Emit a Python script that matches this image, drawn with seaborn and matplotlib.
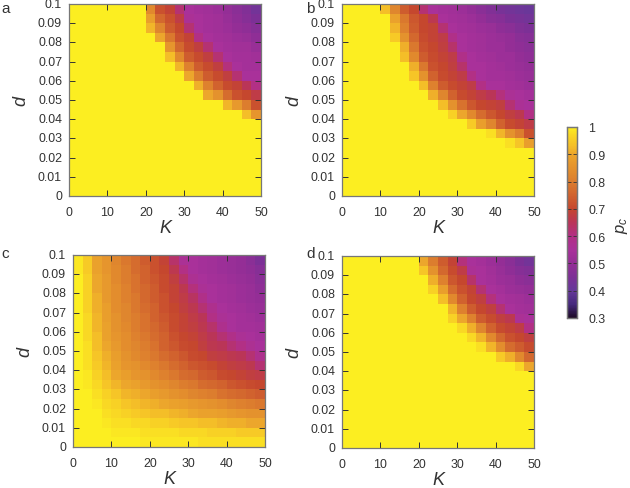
import seaborn as sns
import matplotlib.pyplot as plt
from matplotlib.colors import LinearSegmentedColormap

plt.rcParams['font.family'] = ['Liberation Sans', 'DejaVu Sans']
plt.rcParams['mathtext.fontset'] = 'custom'
plt.rcParams['mathtext.it'] = 'Liberation Sans:italic'
plt.rcParams['mathtext.rm'] = 'Liberation Sans'

# cells: 20 x 20, rows run from d = 0.1 (top) down to d = 0
panel_a = [
    [1]*8 + [.83, .72, .69, .62, .55, .54, .53, .52, .50, .48, .46, .43],
    [1]*8 + [.88, .76, .72, .67, .56, .55, .54, .53, .51, .49, .47, .45],
    [1]*8 + [.92, .82, .74, .70, .62, .55, .54, .53, .52, .50, .49, .47],
    [1]*9 + [.90, .79, .72, .69, .60, .55, .54, .53, .52, .51, .49],
    [1]*10 + [.86, .76, .71, .68, .62, .55, .54, .53, .53, .51],
    [1]*10 + [.93, .83, .74, .71, .68, .62, .55, .54, .54, .53],
    [1]*11 + [.92, .81, .74, .71, .68, .61, .55, .54, .54],
    [1]*12 + [.90, .80, .74, .71, .68, .62, .55, .55],
    [1]*13 + [.91, .81, .75, .71, .69, .65, .60],
    [1]*14 + [.90, .85, .77, .72, .70, .67],
    [1]*16 + [.92, .87, .80, .72],
    [1]*18 + [.93, .86],
] + [[1]*20]*8

panel_b = [
    [1]*4 + [.93, .82, .74, .70, .62, .55, .54, .53, .52, .50, .48, .46, .44, .43, .42, .41],
    [1]*5 + [.89, .79, .73, .70, .66, .55, .54, .53, .52, .50, .48, .47, .45, .44, .43],
    [1]*5 + [.92, .81, .74, .70, .69, .62, .55, .54, .53, .52, .51, .49, .48, .46, .45],
    [1]*5 + [.95, .85, .76, .71, .69, .67, .59, .55, .54, .53, .52, .51, .50, .48, .47],
    [1]*6 + [.91, .79, .72, .70, .68, .63, .55, .54, .53, .52, .52, .50, .49, .48],
    [1]*6 + [.93, .83, .74, .71, .69, .67, .59, .55, .54, .53, .52, .52, .50, .49],
    [1]*7 + [.91, .79, .72, .70, .68, .63, .55, .55, .54, .53, .52, .51, .50],
    [1]*7 + [.94, .85, .75, .71, .69, .67, .60, .55, .54, .54, .53, .52, .51],
    [1]*8 + [.93, .81, .74, .71, .69, .67, .60, .55, .55, .54, .53, .52],
    [1]*9 + [.91, .82, .75, .71, .69, .67, .65, .61, .56, .55, .54],
    [1]*10 + [.93, .85, .78, .73, .70, .69, .68, .62, .56, .55],
    [1]*11 + [.96, .90, .83, .77, .73, .70, .68, .66, .60],
    [1]*13 + [.95, .88, .82, .75, .71, .69, .67],
    [1]*15 + [.98, .92, .85, .80, .72],
    [1]*17 + [.98, .94, .88],
] + [[1]*20]*5

panel_c = [
    [.99, .95, .89, .86, .82, .79, .77, .74, .72, .69, .63, .56, .55, .54, .53, .52, .51, .50, .48, .45],
    [.99, .95, .89, .86, .83, .80, .77, .75, .72, .70, .66, .60, .55, .54, .53, .52, .51, .50, .49, .47],
    [1, .96, .90, .87, .83, .80, .78, .75, .73, .71, .68, .63, .57, .55, .54, .53, .52, .51, .50, .48],
    [1, .96, .90, .87, .84, .81, .78, .76, .74, .71, .69, .66, .61, .56, .55, .54, .53, .52, .51, .49],
    [1, .96, .91, .87, .84, .81, .79, .76, .74, .72, .69, .67, .64, .59, .55, .54, .53, .52, .51, .50],
    [1, .96, .91, .88, .84, .82, .79, .77, .75, .72, .70, .68, .66, .62, .58, .55, .54, .53, .52, .51],
    [1, .97, .92, .88, .85, .82, .80, .78, .75, .73, .71, .69, .67, .65, .60, .56, .55, .54, .53, .52],
    [1, .97, .92, .89, .85, .83, .80, .78, .76, .74, .71, .69, .68, .66, .63, .58, .55, .54, .54, .53],
    [1, .97, .93, .89, .86, .84, .81, .79, .77, .75, .72, .70, .69, .67, .65, .62, .59, .56, .55, .54],
    [1, .98, .93, .90, .87, .84, .82, .80, .78, .75, .73, .71, .70, .68, .66, .65, .62, .60, .57, .55],
    [1, .98, .94, .91, .88, .85, .83, .81, .79, .77, .75, .73, .71, .70, .68, .67, .66, .65, .62, .58],
    [1, .98, .95, .92, .89, .86, .85, .83, .81, .79, .77, .75, .73, .72, .71, .69, .68, .67, .66, .62],
    [1, .99, .96, .93, .90, .88, .86, .85, .83, .81, .79, .77, .76, .74, .73, .71, .70, .69, .68, .67],
    [1, .99, .97, .94, .92, .90, .89, .87, .85, .84, .82, .80, .79, .77, .76, .75, .73, .72, .71, .70],
    [1, 1, .98, .96, .94, .92, .91, .90, .88, .87, .85, .84, .82, .81, .80, .78, .77, .76, .75, .74],
    [1, 1, .99, .97, .96, .94, .93, .92, .91, .90, .89, .88, .87, .86, .85, .84, .82, .81, .80, .79],
    [1, 1, 1, .98, .97, .96, .95, .94, .93, .93, .92, .91, .90, .89, .89, .88, .87, .86, .85, .85],
    [1, 1, 1, .99, .98, .98, .97, .97, .96, .96, .95, .94, .94, .93, .93, .92, .91, .91, .90, .90],
    [1, 1, 1, 1, .99, .99, .99, .98, .98, .98, .98, .97, .97, .97, .96, .96, .96, .95, .95, .95],
    [1, 1, 1, 1, 1, 1, 1, .99, .99, .99, .99, .99, .99, .98, .98, .98, .98, .98, .98, .98],
]

panel_d = [
    [1]*8 + [.90, .80, .74, .69, .61, .55, .54, .52, .50, .48, .45, .43],
    [1]*8 + [.94, .85, .76, .71, .67, .56, .55, .53, .51, .49, .47, .46],
    [1]*9 + [.91, .81, .73, .70, .63, .55, .54, .52, .51, .49, .48],
    [1]*9 + [.96, .88, .77, .72, .69, .62, .55, .54, .52, .51, .50],
    [1]*10 + [.93, .83, .75, .70, .68, .61, .55, .54, .53, .52],
    [1]*11 + [.92, .81, .74, .70, .68, .62, .55, .54, .53],
    [1]*11 + [.96, .90, .81, .74, .71, .68, .66, .56, .55],
    [1]*12 + [.97, .91, .82, .75, .71, .69, .67, .60],
    [1]*13 + [.97, .92, .83, .76, .72, .70, .68],
    [1]*14 + [.98, .92, .84, .77, .74, .71],
    [1]*16 + [.95, .91, .83, .76],
    [1]*18 + [.97, .90],
] + [[1]*20]*8

k_ticks = ['0', '10', '20', '30', '40', '50']
d_ticks = ['0.1', '0.09', '0.08', '0.07', '0.06', '0.05', '0.04', '0.03', '0.02', '0.01', '0']
cbar_ticks = [0.3, 0.4, 0.5, 0.6, 0.7, 0.8, 0.9, 1]
cbar_labels = ['0.3', '0.4', '0.5', '0.6', '0.7', '0.8', '0.9', '1']

stops = [(0.0, '#1c0a24'), (0.07, '#45297c'), (0.143, '#66399a'), (0.214, '#7d3096'), (0.286, '#942e96'),
         (0.357, '#a9319a'), (0.43, '#b23084'), (0.5, '#ba3558'), (0.571, '#c5462e'), (0.714, '#dc7d2e'),
         (0.857, '#eca52c'), (0.9, '#f4bd28'), (0.957, '#f9d624'), (1.0, '#fcee21')]
cmap = LinearSegmentedColormap.from_list('pc', stops)

W, H = 630, 489
txt = '#333333'
edge = '#777777'


def box(x0, y0, x1, y1):
    return [x0 / W, 1 - y1 / H, (x1 - x0) / W, (y1 - y0) / H]


fig = plt.figure(figsize=(W / 100, H / 100), dpi=100)
cax = fig.add_axes(box(567, 128, 577, 319))

panels = [
    ('a', panel_a, (69, 5, 261, 197), (1, 9)),
    ('b', panel_b, (342, 5, 534, 197), (306, 9)),
    ('c', panel_c, (73, 256, 265, 448), (1, 254)),
    ('d', panel_d, (342, 257, 534, 449), (306, 254)),
]

for i, (name, values, pos, letter) in enumerate(panels):
    ax = fig.add_axes(box(*pos))
    sns.heatmap(values, ax=ax, cmap=cmap, vmin=0.3, vmax=1, square=False,
                cbar=i == 0, cbar_ax=cax if i == 0 else None)
    ax.set_xticks(range(0, 21, 4), k_ticks, rotation=0)
    ax.set_yticks(range(0, 21, 2), d_ticks, rotation=0)
    ax.tick_params(direction='in', length=4, width=0.7, top=True, right=True, bottom=True, left=True,
                   labelsize=8.9, labelcolor=txt, color='#333333')
    ax.tick_params(axis='x', pad=7)
    ax.tick_params(axis='y', pad=5)
    for s in ax.spines.values():
        s.set_visible(True)
        s.set_color(edge)
        s.set_linewidth(0.9)
    ax.set_xlabel('K', style='italic', fontsize=13, color=txt, labelpad=1)
    ax.set_ylabel('d', style='italic', fontsize=13, color=txt, labelpad=6)
    fig.text(letter[0] / W, 1 - letter[1] / H, name, fontsize=11, color=txt, va='center')

cax.set_yticks(cbar_ticks, cbar_labels)
cax.tick_params(direction='in', length=3, width=0.6, left=True, right=True, labelsize=8.9,
                labelcolor=txt, color='#333333', pad=8)
for s in cax.spines.values():
    s.set_visible(True)
    s.set_color(edge)
    s.set_linewidth(0.9)
fig.text(622 / W, 1 - 225 / H, '$p_c$', rotation=90, fontsize=12, color=txt, ha='center', va='center')

fig.savefig('out.png', dpi=100)
